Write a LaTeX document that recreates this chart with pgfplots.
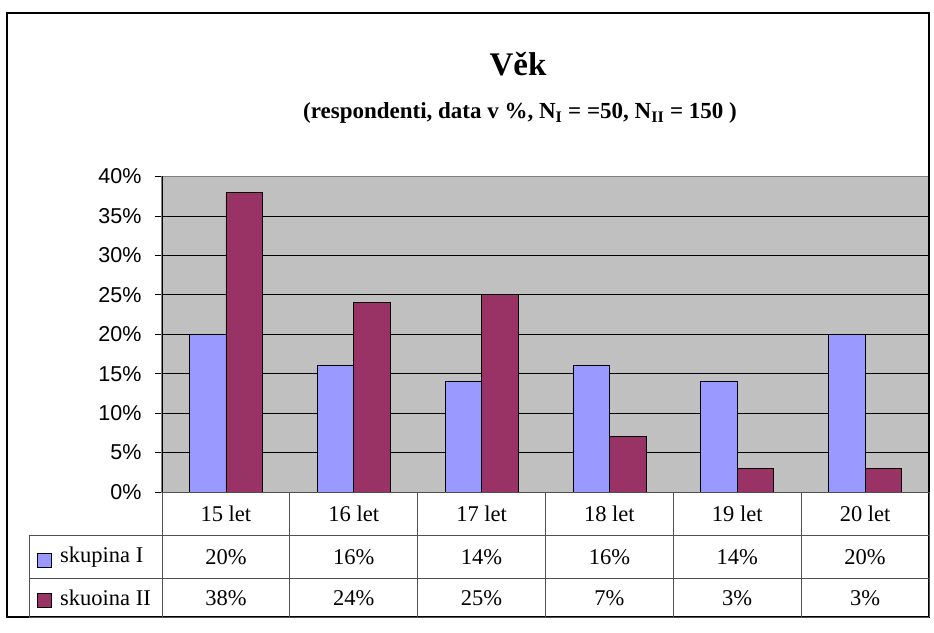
\documentclass[border=0pt]{standalone}
\usepackage{fontspec}
\setmainfont{Liberation Serif}
\newfontfamily\arialfont{Liberation Sans}
\usepackage{pgfplots}
\pgfplotsset{compat=1.18}
\definecolor{serI}{HTML}{9999FF}
\definecolor{serII}{HTML}{993366}
\definecolor{plotbg}{HTML}{C0C0C0}
\definecolor{tabline}{HTML}{505050}

\begin{document}
\begin{tikzpicture}
\begin{scope}[x=1pt,y=1pt]
\useasboundingbox (-162,-140) rectangle (772,492);
\end{scope}

\begin{axis}[
  at={(0pt,0pt)}, anchor=south west,
  scale only axis, width=767pt, height=315.5pt,
  xmin=-0.5, xmax=5.5, ymin=0, ymax=40,
  ybar=0pt, bar width=36.5pt,
  xtick=\empty,
  ytick={0,5,...,40},
  ytick pos=left,
  tick align=outside, major tick length=7pt,
  tick style={black, line width=0.8pt},
  ymajorgrids, grid style={black, line width=0.8pt},
  axis background/.style={fill=plotbg},
  axis line style={draw=gray, line width=1pt},
  /pgf/number format/assume math mode=true,
  yticklabel={\pgfmathprintnumber{\tick}\%},
  yticklabel style={font=\arialfont\fontsize{21.5}{21.5}\selectfont, xshift=-10pt},
  clip=false,
]
\addplot[fill=serI, draw=black, line width=0.8pt] coordinates {
  (0,20) (1,16) (2,14) (3,16) (4,14) (5,20)};
\addplot[fill=serII, draw=black, line width=0.8pt] coordinates {
  (0,38) (1,24) (2,25) (3,7) (4,3) (5,3)};
\end{axis}

\begin{scope}[x=1pt,y=1pt]
% axis left line
\draw[black, line width=1pt] (0,0) -- (0,315.5);
% outer frame
\draw[black, line width=1.3pt] (-155,-125) rectangle (767,479);
% data table
\draw[tabline, line width=0.9pt] (0,0) -- (767,0);
\draw[tabline, line width=0.9pt] (-133,-43) -- (767,-43);
\draw[tabline, line width=0.9pt] (-133,-86) -- (767,-86);
\draw[tabline, line width=0.9pt] (-133,-125) -- (767,-125);
\draw[tabline, line width=0.9pt] (-133,-43) -- (-133,-125);
\foreach \k in {0,1,...,6} {
  \draw[tabline, line width=0.9pt] ({127.83*\k},0) -- ({127.83*\k},-125);
}
\foreach \lab [count=\i from 0] in {15 let,16 let,17 let,18 let,19 let,20 let} {
  \node[font=\fontsize{22.5}{22.5}\selectfont] at ({127.83*(\i+0.5)},-22) {\lab};
}
\foreach \v [count=\i from 0] in {20,16,14,16,14,20} {
  \node[font=\fontsize{22.5}{22.5}\selectfont] at ({127.83*(\i+0.5)},-65) {\v\%};
}
\foreach \v [count=\i from 0] in {38,24,25,7,3,3} {
  \node[font=\fontsize{22.5}{22.5}\selectfont] at ({127.83*(\i+0.5)},-106) {\v\%};
}
% legend keys
\draw[black, line width=1pt, fill=serI] (-124.5,-75) rectangle (-110.5,-61);
\node[font=\fontsize{22.5}{22.5}\selectfont, anchor=west, inner sep=0pt] at (-102,-65) {skupina I};
\draw[black, line width=1pt, fill=serII] (-124.5,-115.5) rectangle (-110.5,-101.5);
\node[font=\fontsize{22.5}{22.5}\selectfont, anchor=west, inner sep=0pt] at (-102,-106) {skuoina II};
% titles
\node[font=\bfseries\fontsize{33}{33}\selectfont, anchor=base] at (356,416) {Věk};
\node[font=\bfseries\fontsize{23}{23}\selectfont, anchor=base] at (358,373)
  {(respondenti, data v \%, N\textsubscript{I} = =50, N\textsubscript{II} = 150 )};
\end{scope}
\end{tikzpicture}
\end{document}
